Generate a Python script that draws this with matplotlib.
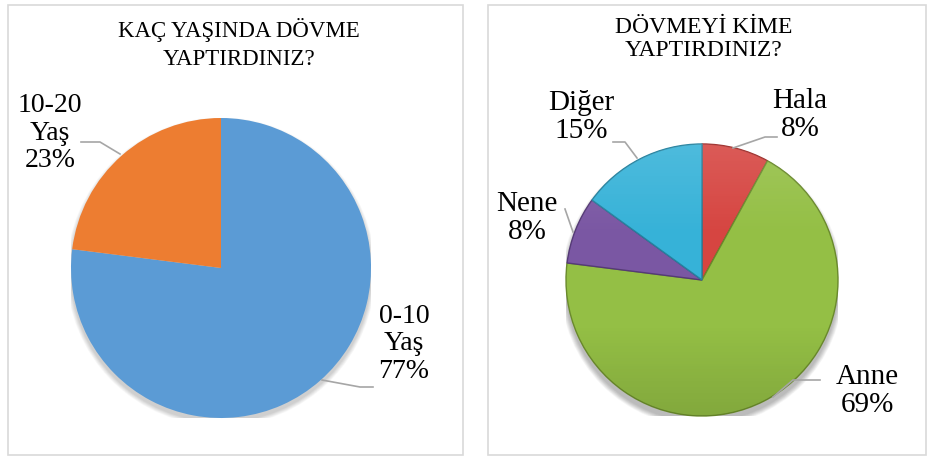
"""Two pie charts on tattooing: age at first tattoo and who did it."""

import matplotlib

matplotlib.use("Agg")
import matplotlib.pyplot as plt
import numpy as np
from matplotlib.colors import LinearSegmentedColormap
from matplotlib.patches import Rectangle, Ellipse

plt.rcParams["font.family"] = ["Liberation Serif", "DejaVu Serif"]

W, H = 930, 457

# --- data ---
age_labels = ["0-10\nYaş", "10-20\nYaş"]
age_shares = [77, 23]
age_colors = ["#5B9BD5", "#ED7D31"]

who_labels = ["Hala", "Anne", "Nene", "Diğer"]
who_shares = [8, 69, 8, 15]
who_colors = ["#D64541", "#94BF45", "#7A57A3", "#36B2D8"]
who_edges = ["#9E2E2B", "#6A8A2C", "#553A76", "#25829F"]


def pie_axes(fig, cx, cy, r):
    """Square axes in pixel terms, data radius 1 == r pixels."""
    ax = fig.add_axes([(cx - r) / W, (H - cy - r) / H, 2 * r / W, 2 * r / H])
    ax.set_xlim(-1, 1)
    ax.set_ylim(-1, 1)
    ax.axis("off")
    return ax


def to_data(cx, cy, r, x, y):
    return (x - cx) / r, -(y - cy) / r


def leader(ax, cx, cy, r, pts):
    xs, ys = zip(*[to_data(cx, cy, r, x, y) for x, y in pts])
    ax.plot(xs, ys, color="#A6A6A6", lw=1.2, clip_on=False, zorder=5)


def label(ax, cx, cy, r, x, y, text, size):
    dx, dy = to_data(cx, cy, r, x, y)
    ax.text(dx, dy, text, ha="center", va="center", fontsize=size,
            linespacing=1.12, clip_on=False, zorder=6)


def soft_shadow(ax, dy, spread, alpha, n=12):
    for k in range(n):
        d = 2.0 + spread * (k + 1) / n
        ax.add_patch(Ellipse((0.0, dy), d, d, color="#000000",
                             alpha=alpha / n, lw=0, zorder=0))


fig = plt.figure(figsize=(W / 100, H / 100), dpi=100)
fig.patch.set_facecolor("white")

# panel frames
for x0, x1 in [(8, 463), (488, 926)]:
    fig.patches.append(Rectangle((x0 / W, 2 / H), (x1 - x0) / W, (H - 7) / H,
                                 transform=fig.transFigure, fill=False,
                                 edgecolor="#D9D9D9", lw=1.2))

fig.text(239 / W, 1 - 44 / H, "KAÇ YAŞINDA DÖVME\nYAPTIRDINIZ?",
         ha="center", va="center", fontsize=16.5, linespacing=1.45)
fig.text(704 / W, 1 - 39 / H, "DÖVMEYİ KİME\nYAPTIRDINIZ?",
         ha="center", va="center", fontsize=17, linespacing=1.1)

# --- left pie: age ---
lcx, lcy, lr = 221, 268, 150
ax1 = pie_axes(fig, lcx, lcy, lr)
soft_shadow(ax1, -0.025, 0.06, 0.18)
ax1.pie(age_shares, colors=age_colors, startangle=90, counterclock=False,
        radius=1, wedgeprops=dict(linewidth=0))
ax1.set_xlim(-1, 1)
ax1.set_ylim(-1, 1)

age_text = [f"{l}\n{v}%" for l, v in zip(age_labels, age_shares)]
label(ax1, lcx, lcy, lr, 404, 344, age_text[0], 20)
label(ax1, lcx, lcy, lr, 50, 133, age_text[1], 20)
leader(ax1, lcx, lcy, lr, [(322, 380), (360, 387), (373, 387)])
leader(ax1, lcx, lcy, lr, [(81, 142), (100, 142), (120, 154)])

# --- right pie: who ---
rcx, rcy, rr = 702, 280, 136
ax2 = pie_axes(fig, rcx, rcy, rr)
soft_shadow(ax2, -0.04, 0.08, 0.3)
wedges, _ = ax2.pie(who_shares, colors=who_colors, startangle=90, counterclock=False,
                    radius=1, wedgeprops=dict(linewidth=1.0))
shade = LinearSegmentedColormap.from_list(
    "shade", [(1, 1, 1, 0.12), (1, 1, 1, 0.0), (0, 0, 0, 0.0), (0, 0, 0, 0.12)])
grad = np.linspace(0, 1, 256).reshape(-1, 1)
for w, ec in zip(wedges, who_edges):
    w.set_edgecolor(ec)
    # vertical light-to-dark shading clipped to each slice
    img = ax2.imshow(grad, extent=(-1, 1, -1, 1), origin="upper", cmap=shade,
                     zorder=w.get_zorder() + 0.1, aspect="auto")
    img.set_clip_path(w)
ax2.set_xlim(-1, 1)
ax2.set_ylim(-1, 1)

who_text = [f"{l}\n{v}%" for l, v in zip(who_labels, who_shares)]
label(ax2, rcx, rcy, rr, 800, 115, who_text[0], 21)
label(ax2, rcx, rcy, rr, 867, 391, who_text[1], 21)
label(ax2, rcx, rcy, rr, 527, 218, who_text[2], 21)
label(ax2, rcx, rcy, rr, 581, 117, who_text[3], 21)
leader(ax2, rcx, rcy, rr, [(777, 137), (765, 137), (733, 148)])
leader(ax2, rcx, rcy, rr, [(820, 380), (793, 380), (773, 397)])
leader(ax2, rcx, rcy, rr, [(565, 209), (573, 232)])
leader(ax2, rcx, rcy, rr, [(613, 142), (625, 142), (637, 158)])

fig.savefig("out.png", dpi=100)
